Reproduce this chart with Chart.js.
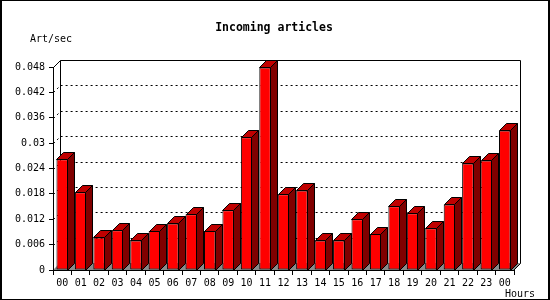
<!DOCTYPE html>
<html>
<head>
<meta charset="utf-8">
<script src="https://cdn.jsdelivr.net/npm/chart.js@4/dist/chart.umd.min.js"></script>
<style>
  html, body { margin: 0; padding: 0; background: #fff; }
  #wrap { width: 550px; height: 300px; position: relative; }
  canvas { display: block; }
</style>
</head>
<body>
<div id="wrap"><canvas id="c" width="550" height="300"></canvas></div>
<script>
// ---- data ----
const hours = ['00','01','02','03','04','05','06','07','08','09','10','11',
               '12','13','14','15','16','17','18','19','20','21','22','23','00'];
const artPerSec = [0.0262, 0.0184, 0.0077, 0.0094, 0.0070, 0.0092, 0.0110, 0.0132,
                   0.0092, 0.0141, 0.0314, 0.0479, 0.0179, 0.0188, 0.0070, 0.0070,
                   0.0120, 0.0085, 0.0151, 0.0134, 0.0099, 0.0155, 0.0252, 0.0259, 0.0330];
const yTickLabels = ['0','0.006','0.012','0.018','0.024','0.03','0.036','0.042','0.048'];
const yMin = 0, yMax = 0.048, yStep = 0.006;
const chartTitle = 'Incoming articles';
const yUnit = 'Art/sec';
const xUnit = 'Hours';

// ---- styling ----
const DEPTH = 7;
const FRONT = '#ff0000', TOP = '#c00000', SIDE = '#800000', FLOOR = '#8a8a8a';
const MONO = '"DejaVu Sans Mono", "Liberation Mono", monospace';

const threeD = {
  id: 'threeD',
  beforeDatasetsDraw(chart) {
    const { ctx, chartArea: a, scales: { y } } = chart;
    const L = Math.round(a.left), R = Math.round(a.right), T = Math.round(a.top), B = Math.round(a.bottom);
    ctx.save();
    // floor
    ctx.fillStyle = FLOOR;
    ctx.beginPath();
    ctx.moveTo(L, B); ctx.lineTo(L + DEPTH, B - DEPTH);
    ctx.lineTo(R + DEPTH, B - DEPTH); ctx.lineTo(R, B);
    ctx.closePath(); ctx.fill();
    // dotted grid lines on left wall and back wall
    ctx.strokeStyle = '#000'; ctx.lineWidth = 1; ctx.setLineDash([2, 3]);
    y.ticks.forEach((t, i) => {
      if (i === 0 || i === y.ticks.length - 1) return;
      const py = Math.round(y.getPixelForTick(i));
      ctx.beginPath();
      ctx.moveTo(L + 0.5, py + 0.5);
      ctx.lineTo(L + DEPTH + 0.5, py - DEPTH + 0.5);
      ctx.lineTo(R + DEPTH - 0.5, py - DEPTH + 0.5);
      ctx.stroke();
    });
    ctx.setLineDash([]);
    // back frame
    ctx.beginPath();
    ctx.moveTo(L + 0.5, T + 0.5);
    ctx.lineTo(L + DEPTH + 0.5, T - DEPTH + 0.5);
    ctx.lineTo(R + DEPTH - 0.5, T - DEPTH + 0.5);
    ctx.lineTo(R + DEPTH - 0.5, B - DEPTH + 0.5);
    ctx.lineTo(R - 0.5, B + 0.5);
    ctx.stroke();
    ctx.beginPath();
    ctx.moveTo(L + DEPTH + 0.5, T - DEPTH + 0.5);
    ctx.lineTo(L + DEPTH + 0.5, B - DEPTH + 0.5);
    ctx.stroke();
    ctx.restore();
  },
  afterDatasetsDraw(chart) {
    const { ctx, chartArea: a } = chart;
    const meta = chart.getDatasetMeta(0);
    ctx.save();
    ctx.lineWidth = 1; ctx.strokeStyle = '#000'; ctx.lineJoin = 'miter';
    meta.data.forEach(el => {
      const p = el.getProps(['x', 'y', 'base', 'width'], true);
      const left = Math.round(p.x - p.width / 2) + 0.5;
      const right = Math.round(p.x + p.width / 2) - 0.5;
      const top = Math.round(p.y) + 0.5;
      const bot = Math.round(p.base) + 0.5;
      // side face
      ctx.fillStyle = SIDE;
      ctx.beginPath();
      ctx.moveTo(right, top); ctx.lineTo(right + DEPTH, top - DEPTH);
      ctx.lineTo(right + DEPTH, bot - DEPTH); ctx.lineTo(right, bot);
      ctx.closePath(); ctx.fill(); ctx.stroke();
      // top face
      ctx.fillStyle = TOP;
      ctx.beginPath();
      ctx.moveTo(left, top); ctx.lineTo(left + DEPTH, top - DEPTH);
      ctx.lineTo(right + DEPTH, top - DEPTH); ctx.lineTo(right, top);
      ctx.closePath(); ctx.fill(); ctx.stroke();
    });
    // front axis lines on top
    const L = Math.round(a.left), R = Math.round(a.right), T = Math.round(a.top), B = Math.round(a.bottom);
    ctx.beginPath();
    ctx.moveTo(L + 0.5, T); ctx.lineTo(L + 0.5, B + 0.5); ctx.lineTo(R, B + 0.5);
    ctx.stroke();
    ctx.restore();
  },
  afterDraw(chart) {
    const { ctx } = chart;
    ctx.save();
    ctx.fillStyle = '#000';
    ctx.textBaseline = 'alphabetic';
    ctx.font = 'bold 11.5px ' + MONO;
    ctx.textAlign = 'center';
    ctx.fillText(chartTitle, 274, 31);
    ctx.font = '10px ' + MONO;
    ctx.textAlign = 'left';
    ctx.fillText(yUnit, 30, 42);
    ctx.fillText(xUnit, 505, 297);
    // outer frame
    ctx.fillRect(0, 0, 2, 300);
    ctx.fillRect(548, 0, 2, 300);
    ctx.fillRect(0, 0, 550, 1);
    ctx.fillRect(0, 299, 550, 1);
    ctx.restore();
  }
};

new Chart(document.getElementById('c'), {
  type: 'bar',
  data: {
    labels: hours,
    datasets: [{
      data: artPerSec,
      backgroundColor: FRONT,
      borderColor: '#000',
      borderWidth: 1,
      borderSkipped: false,
      barPercentage: 0.625,
      categoryPercentage: 1
    }]
  },
  options: {
    responsive: false,
    animation: false,
    devicePixelRatio: 1,
    layout: { padding: { top: 67, right: 36, left: 0, bottom: 0 } },
    plugins: { legend: { display: false }, title: { display: false }, tooltip: { enabled: false } },
    scales: {
      x: {
        afterFit: s => { s.height = 30; },
        grid: { display: true, drawOnChartArea: false, offset: true, tickLength: 5, color: '#000' },
        border: { display: true, color: '#000' },
        ticks: {
          color: '#000', autoSkip: false, maxRotation: 0, minRotation: 0, padding: 2,
          font: { family: MONO, size: 10 }
        }
      },
      y: {
        min: yMin, max: yMax,
        afterFit: s => { s.width = 53; },
        grid: { display: true, drawOnChartArea: false, tickLength: 4, color: '#000' },
        border: { display: true, color: '#000' },
        ticks: {
          stepSize: yStep, color: '#000', padding: 4,
          font: { family: MONO, size: 10 },
          callback: (v, i) => yTickLabels[i]
        }
      }
    }
  },
  plugins: [threeD]
});
</script>
</body>
</html>
